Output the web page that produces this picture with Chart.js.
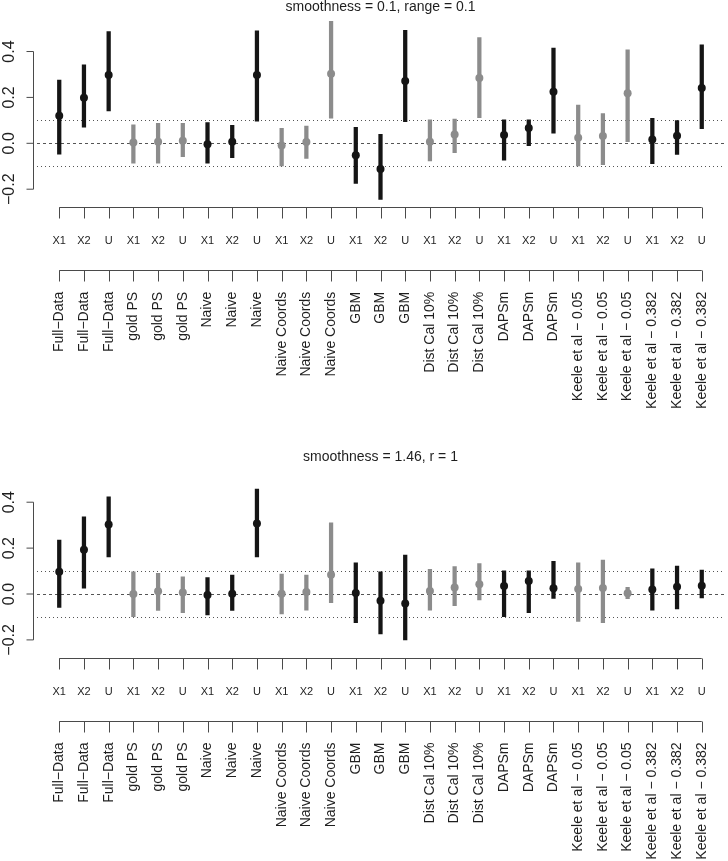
<!DOCTYPE html>
<html>
<head>
<meta charset="utf-8">
<script src="https://cdn.jsdelivr.net/npm/chart.js@4.4.1/dist/chart.umd.min.js"></script>
<style>
  html, body { margin:0; padding:0; background:#fff; }
  body { width:728px; height:861px; position:relative; overflow:hidden; }
  canvas { position:absolute; left:0; }
</style>
</head>
<body>
<canvas id="top" width="728" height="440" style="top:0px"></canvas>
<canvas id="bottom" width="728" height="421" style="top:440px"></canvas>
<script>
// ---- data ----
const methods = ["Full\u2212Data","gold PS","Naive","Naive Coords","GBM","Dist Cal 10%","DAPSm","Keele et al \u2212 0.05","Keele et al \u2212 0.382"];
const variables = ["X1","X2","U"];
const yTicks = [-0.2, 0.0, 0.2, 0.4];
const yTickLabels = ["\u22120.2","0.0","0.2","0.4"];
const refLines = [-0.1, 0.0, 0.1];

const topTitle = "smoothness = 0.1, range = 0.1";
const topEst  = [0.120,0.199,0.298, 0.003,0.007,0.011, -0.004,0.007,0.298, -0.010,0.006,0.303, -0.052,-0.112,0.271, 0.007,0.038,0.285, 0.036,0.067,0.225, 0.024,0.032,0.218, 0.017,0.033,0.241];
const topLow  = [-0.047,0.070,0.141, -0.087,-0.087,-0.058, -0.087,-0.063,0.097, -0.098,-0.066,0.109, -0.175,-0.245,0.094, -0.077,-0.041,0.112, -0.074,-0.010,0.044, -0.099,-0.093,0.007, -0.089,-0.048,0.064];
const topHigh = [0.276,0.342,0.487, 0.080,0.087,0.087, 0.090,0.078,0.490, 0.065,0.075,0.531, 0.070,0.039,0.492, 0.102,0.106,0.461, 0.102,0.102,0.415, 0.167,0.129,0.407, 0.109,0.099,0.429];

const bottomTitle = "smoothness = 1.46, r = 1";
const bottomEst  = [0.097,0.193,0.303, 0.000,0.012,0.007, -0.004,0.001,0.307, 0.001,0.009,0.084, 0.004,-0.029,-0.041, 0.013,0.028,0.043, 0.035,0.057,0.025, 0.022,0.026,0.003, 0.020,0.032,0.036];
const bottomLow  = [-0.058,0.025,0.162, -0.099,-0.072,-0.081, -0.091,-0.072,0.162, -0.087,-0.070,-0.038, -0.125,-0.174,-0.200, -0.070,-0.051,-0.026, -0.099,-0.081,-0.019, -0.120,-0.125,-0.020, -0.070,-0.065,-0.017];
const bottomHigh = [0.235,0.336,0.423, 0.097,0.090,0.075, 0.072,0.083,0.457, 0.087,0.083,0.310, 0.136,0.097,0.170, 0.107,0.119,0.133, 0.101,0.101,0.142, 0.136,0.148,0.029, 0.110,0.122,0.104];

// ---- style ----
const BLACK = "#151515", GRAY = "#8c8c8c", AXIS = "#4a4a4a", TEXT = "#1e1e1e";
const FONT = "'Liberation Sans', Arial, Helvetica, sans-serif";

function makePanel(id, title, est, low, high, padTop, padBottom) {
  const n = est.length;
  const cats = [], varLabels = [], colors = [];
  for (let i = 0; i < n; i++) {
    const m = Math.floor(i / variables.length);
    cats.push(methods[m]);
    varLabels.push(variables[i % variables.length]);
    colors.push(m % 2 === 0 ? BLACK : GRAY);
  }
  const barData = est.map((v, i) => ({ x: i + 1, y: [low[i], high[i]] }));
  const ptData = est.map((v, i) => ({ x: i + 1, y: v }));

  const panelPlugin = {
    id: 'panel_' + id,
    beforeDatasetsDraw(chart) {
      const ctx = chart.ctx, a = chart.chartArea, ys = chart.scales.y;
      ctx.save();
      ctx.strokeStyle = "#555";
      ctx.lineWidth = 1;
      refLines.forEach(v => {
        const y = Math.round(ys.getPixelForValue(v)) + 0.5;
        ctx.setLineDash(v === 0 ? [3, 3] : [1, 3]);
        ctx.beginPath(); ctx.moveTo(a.left, y); ctx.lineTo(a.right, y); ctx.stroke();
      });
      ctx.restore();
    },
    afterDraw(chart) {
      const ctx = chart.ctx, a = chart.chartArea, xs = chart.scales.x, ys = chart.scales.y;
      const y0 = ys.getPixelForValue(0);
      ctx.save();
      ctx.strokeStyle = AXIS; ctx.lineWidth = 1; ctx.setLineDash([]);
      // y axis
      const ax = 33.5;
      ctx.beginPath();
      ctx.moveTo(ax, ys.getPixelForValue(yTicks[0]));
      ctx.lineTo(ax, ys.getPixelForValue(yTicks[yTicks.length - 1]));
      yTicks.forEach(v => { const y = ys.getPixelForValue(v); ctx.moveTo(ax, y); ctx.lineTo(ax - 7, y); });
      ctx.stroke();
      ctx.fillStyle = TEXT;
      ctx.font = "16px " + FONT;
      ctx.textAlign = "center"; ctx.textBaseline = "alphabetic";
      yTicks.forEach((v, k) => {
        const y = ys.getPixelForValue(v);
        ctx.save(); ctx.translate(14, y); ctx.rotate(-Math.PI / 2);
        ctx.fillText(yTickLabels[k], 0, 0); ctx.restore();
      });
      // x axes
      const x1 = xs.getPixelForValue(1), xn = xs.getPixelForValue(n);
      [64, 126.7].forEach(off => {
        const ly = Math.round(y0 + off) + 0.5;
        ctx.beginPath(); ctx.moveTo(x1, ly); ctx.lineTo(xn, ly);
        for (let i = 1; i <= n; i++) { const x = Math.round(xs.getPixelForValue(i)) + 0.5; ctx.moveTo(x, ly); ctx.lineTo(x, ly + 11); }
        ctx.stroke();
      });
      // variable labels
      ctx.font = "11px " + FONT; ctx.textAlign = "center"; ctx.textBaseline = "middle";
      for (let i = 0; i < n; i++) ctx.fillText(varLabels[i], xs.getPixelForValue(i + 1), y0 + 98);
      // method labels (rotated)
      ctx.font = "14px " + FONT; ctx.textAlign = "right"; ctx.textBaseline = "middle";
      for (let i = 0; i < n; i++) {
        ctx.save(); ctx.translate(xs.getPixelForValue(i + 1), y0 + 148.5); ctx.rotate(-Math.PI / 2);
        ctx.fillText(cats[i], 0, 0); ctx.restore();
      }
      // title
      ctx.font = "14px " + FONT; ctx.textAlign = "center"; ctx.textBaseline = "alphabetic";
      ctx.fillText(title, (a.left + a.right) / 2, y0 - 132.6);
      ctx.restore();
    }
  };

  return new Chart(document.getElementById(id), {
    data: {
      datasets: [
        { type: 'bar', data: barData, backgroundColor: colors, borderWidth: 0,
          barThickness: 3.6, grouped: false, order: 2 },
        { type: 'scatter', data: ptData, backgroundColor: colors, borderWidth: 0,
          pointRadius: 4, pointHoverRadius: 4, order: 1 }
      ]
    },
    options: {
      responsive: false, animation: false, devicePixelRatio: 1,
      layout: { padding: { left: 37, right: 2.4, top: padTop, bottom: padBottom } },
      plugins: { legend: { display: false }, tooltip: { enabled: false }, title: { display: false } },
      scales: {
        x: { type: 'linear', min: 0.1, max: 27.9, offset: false, display: false },
        y: { type: 'linear', min: -0.3, max: 0.56, display: false }
      }
    },
    plugins: [panelPlugin]
  });
}

makePanel('top', topTitle, topEst, topLow, topHigh, 14.8, 227.85);
makePanel('bottom', bottomTitle, bottomEst, bottomLow, bottomHigh, 25.5, 198.15);
</script>
</body>
</html>
